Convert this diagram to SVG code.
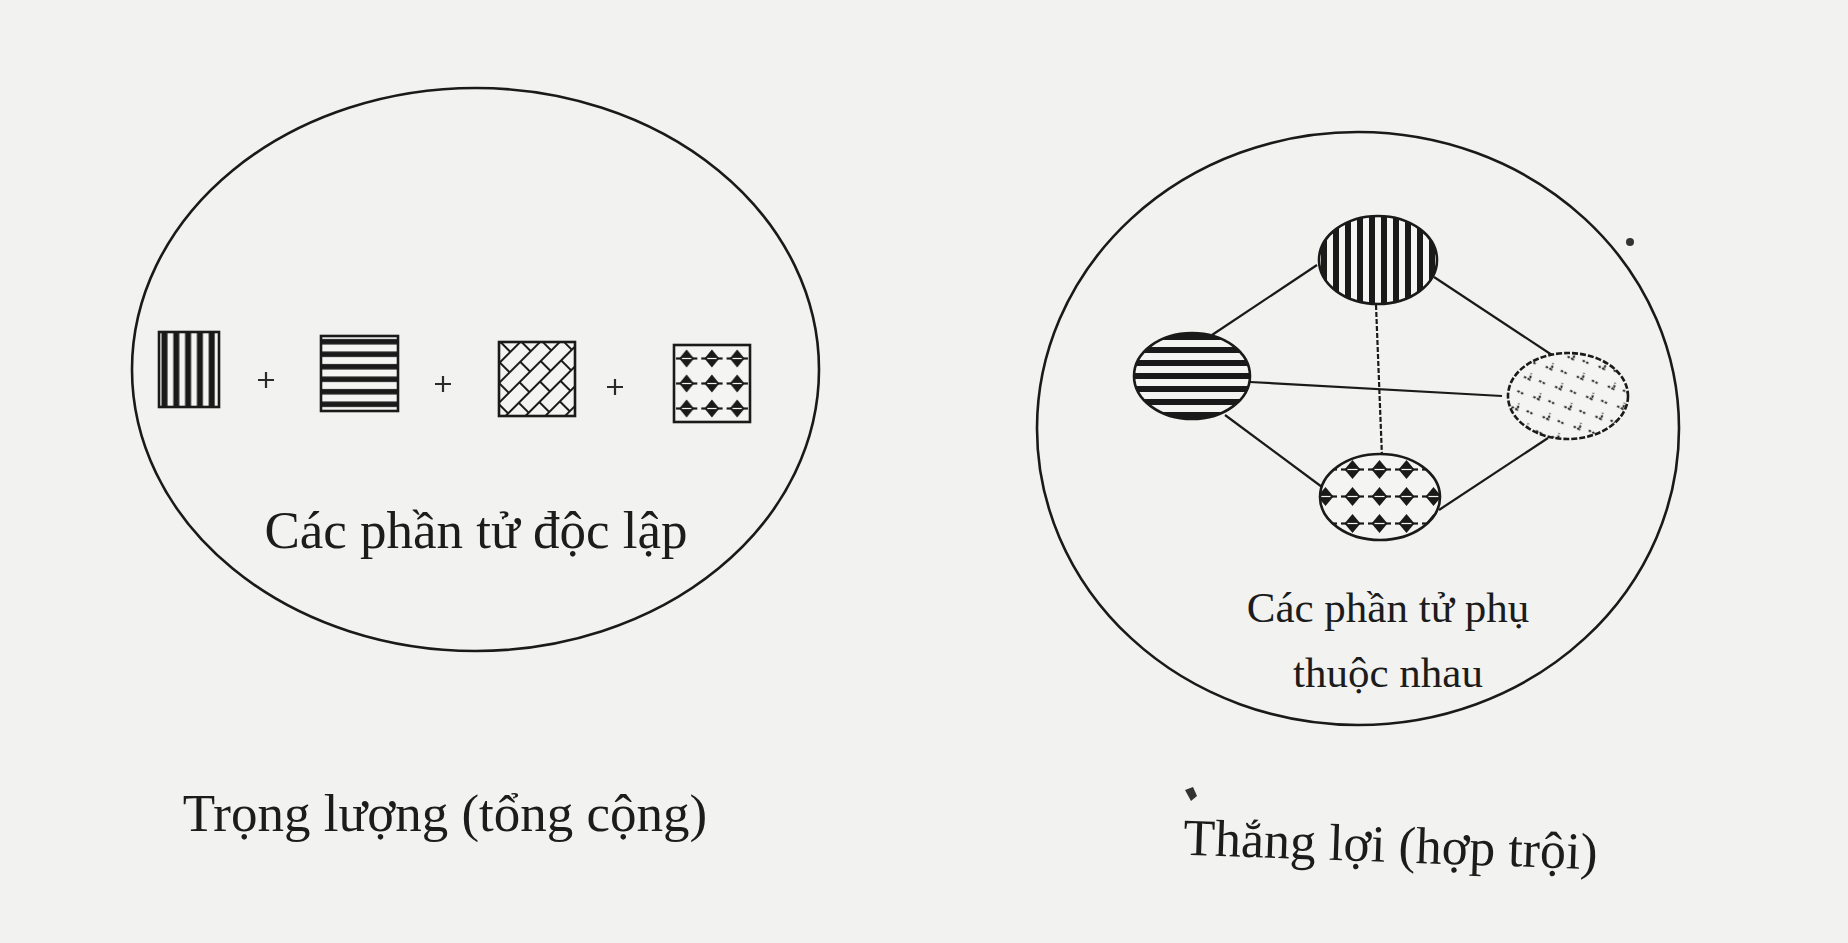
<svg xmlns="http://www.w3.org/2000/svg" width="1848" height="943" viewBox="0 0 1848 943">
<style>
.container{fill:none;stroke:#1a1a1a;stroke-width:2.6}
.item{stroke:#1a1a1a;stroke-width:2.6}
.conn{stroke:#1a1a1a;stroke-width:2.2;fill:none}
.plus{stroke:#2a2a2a;stroke-width:2.2}
.lbl{font-family:"Liberation Serif","Times New Roman",serif;fill:#1c1c1c;text-anchor:middle}
</style>
<defs>
<pattern id="vstripe" patternUnits="userSpaceOnUse" x="159" width="11.8" height="10">
<rect width="11.8" height="10" fill="#f4f4f2"/>
<rect x="2.5" y="0" width="6" height="10" fill="#1a1a1a"/>
</pattern>
<pattern id="vstripe2" patternUnits="userSpaceOnUse" x="1318" width="12" height="10">
<rect width="12" height="10" fill="#f4f4f2"/>
<rect x="3" y="0" width="6" height="10" fill="#1a1a1a"/>
</pattern>
<pattern id="hstripe" patternUnits="userSpaceOnUse" y="336" width="10" height="12.5">
<rect width="10" height="12.5" fill="#f4f4f2"/>
<rect x="0" y="3" width="10" height="5.5" fill="#1a1a1a"/>
</pattern>
<pattern id="hstripe2" patternUnits="userSpaceOnUse" y="331" width="10" height="13">
<rect width="10" height="13" fill="#f4f4f2"/>
<rect x="0" y="3" width="10" height="6" fill="#1a1a1a"/>
</pattern>
<pattern id="brick" patternUnits="userSpaceOnUse" width="30" height="28" patternTransform="translate(499 342) rotate(-45)">
<rect width="30" height="28" fill="#f4f4f2"/>
<path d="M0 1H30M0 15H30M1 1V15M16 15V28" stroke="#1a1a1a" stroke-width="2" fill="none"/>
</pattern>
<pattern id="diamond" patternUnits="userSpaceOnUse" x="674" y="346" width="25.3" height="25">
<rect width="25.3" height="25" fill="#f4f4f2"/>
<path d="M12.6 3.5L20 12.5L12.6 21.5L5.2 12.5Z" fill="#1a1a1a"/>
<path d="M2 12.5H23.3" stroke="#1a1a1a" stroke-width="2.2"/>
<path d="M8 12.5H17.2" stroke="#f4f4f2" stroke-width="1.2"/>
</pattern>
<pattern id="diamond2" patternUnits="userSpaceOnUse" x="1339" y="456" width="27" height="27">
<rect width="27" height="27" fill="#f4f4f2"/>
<path d="M13.5 4L21.5 13.5L13.5 23L5.5 13.5Z" fill="#1a1a1a"/>
<path d="M2 13.5H25" stroke="#1a1a1a" stroke-width="2.2"/>
<path d="M8.5 13.5H18.5" stroke="#f4f4f2" stroke-width="1.2"/>
</pattern>
<pattern id="checks" patternUnits="userSpaceOnUse" width="24" height="22" patternTransform="translate(1509 354) rotate(-25)">
<rect width="24" height="22" fill="#f4f4f2"/>
<path d="M4 5L8 10L12 5" stroke="#222" stroke-width="2" fill="none" stroke-dasharray="2.5 1.5"/>
<path d="M16 15L20 20" stroke="#222" stroke-width="2" fill="none" stroke-dasharray="2.5 1.5"/>
</pattern>
</defs>
<rect width="1848" height="943" fill="#f2f2f0"/>

<g id="left-panel">
<ellipse id="left-container" class="container" cx="475.5" cy="369.5" rx="343.5" ry="281.5"/>
<g id="sq-vertical"><rect class="item" x="159" y="332" width="60" height="75" fill="url(#vstripe)"/></g>
<g id="plus-1"><path class="plus" d="M258 380H274M266 372V388"/></g>
<g id="sq-horizontal"><rect class="item" x="321" y="336" width="77" height="75" fill="url(#hstripe)"/></g>
<g id="plus-2"><path class="plus" d="M435 384H451M443 376V392"/></g>
<g id="sq-brick"><rect class="item" x="499" y="342" width="76" height="74" fill="url(#brick)"/></g>
<g id="plus-3"><path class="plus" d="M607 387H623M615 379V395"/></g>
<g id="sq-diamond"><rect class="item" x="674" y="345" width="76" height="77" fill="url(#diamond)"/></g>
<text class="lbl" x="476" y="548" font-size="53">Các phần tử độc lập</text>
</g>
<text id="caption-left" class="lbl" x="445" y="831" font-size="53">Trọng lượng (tổng cộng)</text>

<g id="right-panel">
<ellipse id="right-container" class="container" cx="1358" cy="428.5" rx="321" ry="296.5"/>
<g id="connectors">
<path class="conn" d="M1317 265L1212 335"/>
<path class="conn" d="M1434 277L1552 355"/>
<path class="conn" d="M1225 415L1322 487"/>
<path class="conn" d="M1548 438L1439 510"/>
<path class="conn" d="M1376 305L1382 457" stroke-dasharray="5 2"/>
<path class="conn" d="M1250 382L1502 396"/>
</g>
<g id="node-top"><ellipse class="item" cx="1378" cy="260" rx="59" ry="44" fill="url(#vstripe2)"/></g>
<g id="node-left"><ellipse class="item" cx="1192" cy="376" rx="58" ry="43" fill="url(#hstripe2)"/></g>
<g id="node-right"><ellipse class="item" cx="1568" cy="396" rx="60" ry="43" fill="url(#checks)" stroke-dasharray="6 2"/></g>
<g id="node-bottom"><ellipse class="item" cx="1380" cy="497" rx="60" ry="43" fill="url(#diamond2)"/></g>
<text class="lbl" x="1388" y="622" font-size="43">Các phần tử phụ</text>
<text class="lbl" x="1388" y="687" font-size="43">thuộc nhau</text>
</g>
<circle cx="1630" cy="242" r="4" fill="#333"/>
<path d="M1185 790l8 -3l4 9l-6 5z" fill="#333"/>
<text id="caption-right" class="lbl" x="1390" y="862" font-size="52" transform="rotate(2 1390 862)">Thắng lợi (hợp trội)</text>
</svg>
